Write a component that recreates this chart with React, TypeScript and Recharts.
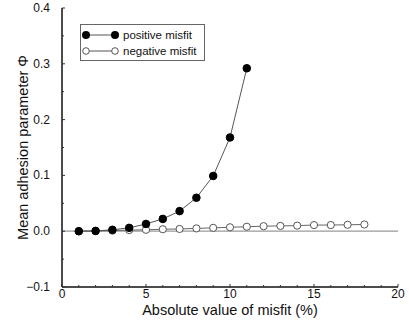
import { Label, Legend, Line, LineChart, ReferenceLine, XAxis, YAxis } from "recharts"

const misfitPositive = [1, 2, 3, 4, 5, 6, 7, 8, 9, 10, 11]
const positiveMisfit = [0.0, 0.0005, 0.0025, 0.006, 0.013, 0.022, 0.036, 0.06, 0.099, 0.168, 0.292]

const misfitNegative = [1, 2, 3, 4, 5, 6, 7, 8, 9, 10, 11, 12, 13, 14, 15, 16, 17, 18]
const negativeMisfit = [
  0.0, 0.0005, 0.001, 0.002, 0.0025, 0.0035, 0.004, 0.005, 0.006, 0.007, 0.008, 0.009, 0.0095, 0.01,
  0.011, 0.011, 0.0115, 0.012,
]

const xTicks = [0, 1, 2, 3, 4, 5, 6, 7, 8, 9, 10, 11, 12, 13, 14, 15, 16, 17, 18, 19, 20]
const yTicks = [-0.1, -0.05, 0, 0.05, 0.1, 0.15, 0.2, 0.25, 0.3, 0.35, 0.4]
const yLabels: Record<string, string> = {
  "-0.1": "\u22120.1",
  "0": "0.0",
  "0.1": "0.1",
  "0.2": "0.2",
  "0.3": "0.3",
  "0.4": "0.4",
}

const positiveData = misfitPositive.map((x, i) => ({ x, y: positiveMisfit[i] }))
const negativeData = misfitNegative.map((x, i) => ({ x, y: negativeMisfit[i] }))

const font = "'Liberation Sans', Arial, Helvetica, sans-serif"

function BottomTick(props: any) {
  const { x, y, payload } = props
  const major = payload.value % 5 === 0
  return (
    <g>
      <line x1={x} x2={x} y1={y} y2={y - (major ? 3 : 2)} stroke="#333" />
      {major && (
        <text x={x} y={y + 11} textAnchor="middle" fontSize={12} fontFamily={font} fill="#111">
          {payload.value}
        </text>
      )}
    </g>
  )
}

function TopTick(props: any) {
  const { x, y, payload } = props
  const major = payload.value % 5 === 0
  return <line x1={x} x2={x} y1={y} y2={y + (major ? 3 : 2)} stroke="#555" />
}

function LeftTick(props: any) {
  const { x, y, payload } = props
  const key = String(Math.round(payload.value * 100) / 100)
  const label = yLabels[key]
  return (
    <g>
      <line x1={x} x2={x + (label ? 3 : 2)} y1={y} y2={y} stroke="#333" />
      {label && (
        <text x={x - 12} y={y + 4} textAnchor="end" fontSize={12} fontFamily={font} fill="#111">
          {label}
        </text>
      )}
    </g>
  )
}

function RightTick(props: any) {
  const { x, y, payload } = props
  const key = String(Math.round(payload.value * 100) / 100)
  const major = key in yLabels
  return <line x1={x} x2={x - (major ? 3 : 2)} y1={y} y2={y} stroke="#333" />
}

function XTitle(props: any) {
  const { viewBox } = props
  return (
    <text
      x={viewBox.x + viewBox.width / 2}
      y={viewBox.y + 27.5}
      textAnchor="middle"
      fontSize={14.5}
      fontFamily={font}
      fill="#111"
    >
      Absolute value of misfit (%)
    </text>
  )
}

function YTitle(props: any) {
  const { viewBox } = props
  const cx = viewBox.x + 23
  const cy = viewBox.y + viewBox.height / 2
  return (
    <text
      x={cx}
      y={cy}
      transform={`rotate(-90 ${cx} ${cy})`}
      textAnchor="middle"
      dominantBaseline="central"
      fontSize={14.5}
      fontFamily={font}
      fill="#111"
    >
      Mean adhesion parameter Φ
    </text>
  )
}

function LegendBox(props: any) {
  const items = [...(props.payload || [])].sort((a: any, b: any) =>
    a.value === "positive misfit" ? -1 : b.value === "positive misfit" ? 1 : 0
  )
  return (
    <div
      style={{
        width: 125,
        height: 37,
        border: "1px solid #666",
        background: "#fff",
        boxSizing: "border-box",
        fontFamily: font,
        fontSize: 11.5,
        color: "#111",
        paddingTop: 2,
      }}
    >
      {items.map((entry: any, i: number) => {
        const filled = entry.value === "positive misfit"
        return (
          <div key={i} style={{ display: "flex", alignItems: "center", height: 16 }}>
            <svg width={41} height={16} style={{ display: "block", flex: "none" }}>
              <line x1={5} x2={34} y1={8} y2={8} stroke="#555" />
              {filled ? (
                <>
                  <circle cx={5} cy={8} r={4} fill="#000" />
                  <circle cx={34} cy={8} r={4} fill="#000" />
                </>
              ) : (
                <>
                  <circle cx={5} cy={8} r={3.3} fill="#fff" stroke="#555" />
                  <circle cx={34} cy={8} r={3.3} fill="#fff" stroke="#555" />
                </>
              )}
            </svg>
            <span style={{ marginLeft: 1, lineHeight: "16px", whiteSpace: "nowrap" }}>{entry.value}</span>
          </div>
        )
      })}
    </div>
  )
}

export default function App() {
  return (
    <div style={{ position: "absolute", left: 0, top: 0, background: "#fff" }}>
      <LineChart width={409} height={325} margin={{ top: 8, right: 11, bottom: 0, left: 0 }}>
        <XAxis
          xAxisId="b"
          type="number"
          dataKey="x"
          domain={[0, 20]}
          ticks={xTicks}
          interval={0}
          height={38}
          tickSize={0}
          tickMargin={0}
          tick={<BottomTick />}
          axisLine={{ stroke: "#111", strokeWidth: 1.5 }}
          allowDataOverflow
        >
          <Label content={<XTitle />} />
        </XAxis>
        <XAxis
          xAxisId="t"
          orientation="top"
          type="number"
          dataKey="x"
          domain={[0, 20]}
          ticks={xTicks}
          interval={0}
          height={0}
          tickSize={0}
          tickMargin={0}
          tick={<TopTick />}
          axisLine={{ stroke: "#777", strokeWidth: 1 }}
        />
        <YAxis
          yAxisId="l"
          type="number"
          domain={[-0.1, 0.4]}
          ticks={yTicks}
          interval={0}
          width={62}
          tickSize={0}
          tickMargin={0}
          tick={<LeftTick />}
          axisLine={{ stroke: "#111", strokeWidth: 1.5 }}
          allowDataOverflow
        >
          <Label content={<YTitle />} />
        </YAxis>
        <YAxis
          yAxisId="r"
          orientation="right"
          type="number"
          domain={[-0.1, 0.4]}
          ticks={yTicks}
          interval={0}
          width={0}
          tickSize={0}
          tickMargin={0}
          tick={<RightTick />}
          axisLine={{ stroke: "#111", strokeWidth: 1.5 }}
        />
        <ReferenceLine xAxisId="b" yAxisId="l" y={0} stroke="#9a9a9a" strokeWidth={1.2} />
        <Legend
          layout="vertical"
          align="center"
          verticalAlign="middle"
          wrapperStyle={{ left: 80, top: 24, width: 125 }}
          content={<LegendBox />}
        />
        <Line
          xAxisId="b"
          yAxisId="l"
          data={negativeData}
          dataKey="y"
          name="negative misfit"
          type="linear"
          stroke="#666"
          strokeWidth={1}
          dot={{ r: 3.6, fill: "#fff", stroke: "#555", strokeWidth: 1 }}
          isAnimationActive={false}
        />
        <Line
          xAxisId="b"
          yAxisId="l"
          data={positiveData}
          dataKey="y"
          name="positive misfit"
          type="linear"
          stroke="#555"
          strokeWidth={1}
          dot={{ r: 3.8, fill: "#000", stroke: "#000", strokeWidth: 1 }}
          isAnimationActive={false}
        />
      </LineChart>
    </div>
  )
}
